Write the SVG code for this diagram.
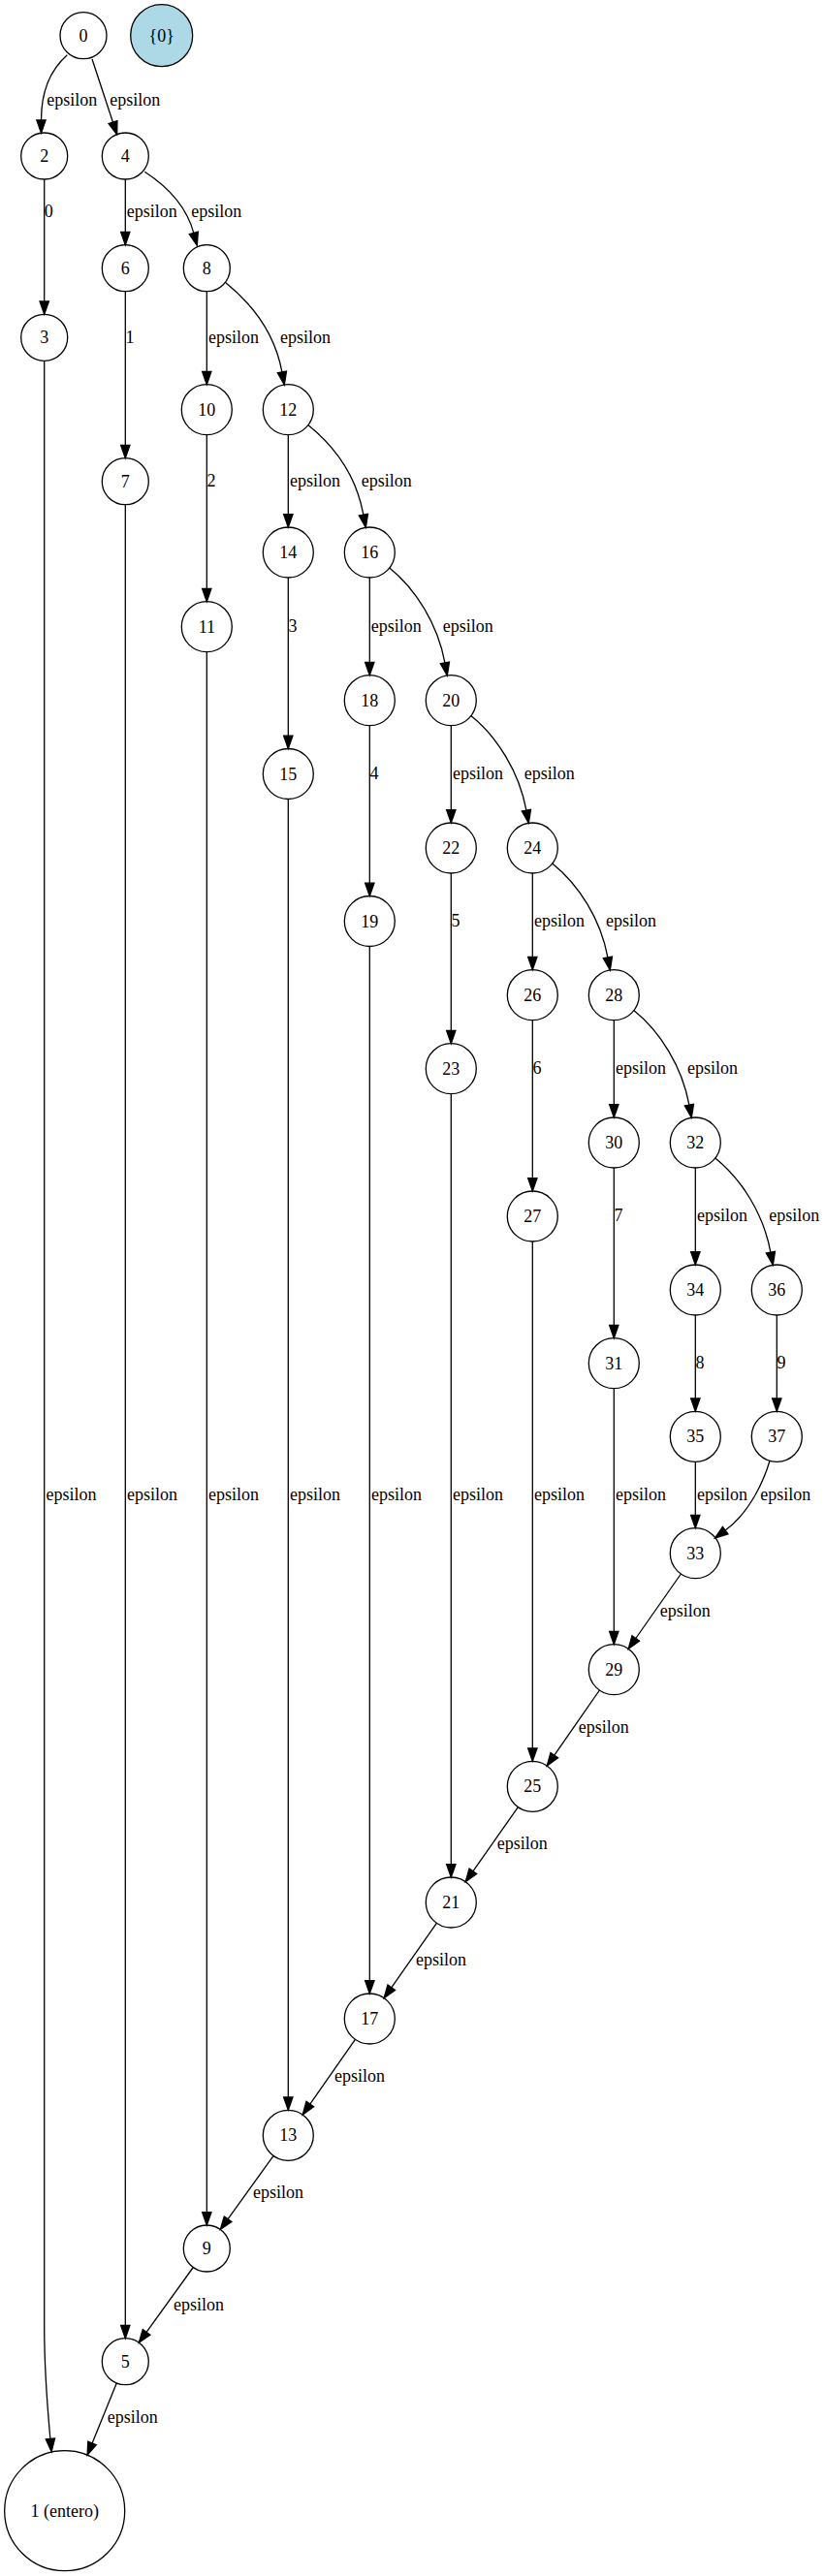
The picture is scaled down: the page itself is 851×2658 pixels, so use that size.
<svg xmlns="http://www.w3.org/2000/svg" width="851" height="2658" viewBox="0 0 851 2658">
<defs>
<style>
text{font-family:"Liberation Serif","Times New Roman",serif;font-size:18px;fill:#000}
.n circle{fill:none;stroke:#000;stroke-width:1.3}
.n text{text-anchor:middle}
.e path{fill:none;stroke:#000;stroke-width:1.3;marker-end:url(#a)}
.d{text-anchor:middle}
</style>
<marker id="a" markerUnits="userSpaceOnUse" markerWidth="14" markerHeight="10" viewBox="0 0 14 10" refX="0" refY="5" orient="auto" overflow="visible">
<path d="M0,0.33 L13.33,5 L0,9.67 Z" fill="#000" stroke="#000" stroke-width="1.3"/>
</marker>
</defs>
<rect width="851" height="2658" fill="#fff"/>
<g id="edges" class="e">
<path d="M69.3,56.7 C52,72 42.5,95 42.5,123.9"/>
<path d="M95,61 L116.5,126.2"/>
<path d="M45.7,185 L45.7,311"/>
<path d="M129.3,185 L129.3,239.4"/>
<path d="M149.3,177.3 C178,196 194,219 199.8,240.4"/>
<path d="M129.3,300.7 L129.3,459.4"/>
<path d="M213.3,300.7 L213.3,383.4"/>
<path d="M232.3,291.3 C259.6,313.3 283.7,344.5 290.9,383.9"/>
<path d="M213.3,448.7 L213.3,607.4"/>
<path d="M297.3,448.7 L297.3,530.7"/>
<path d="M317.8,438.6 C345.1,460.6 367.7,491.8 374.9,531.2"/>
<path d="M297.3,596 L297.3,759.2"/>
<path d="M381.3,596 L381.3,683.4"/>
<path d="M401.8,585.9 C429.1,607.9 451.7,644.5 458.9,683.9"/>
<path d="M381.3,748.7 L381.3,911.2"/>
<path d="M465.3,748.7 L465.3,835.7"/>
<path d="M485.8,738.6 C513.1,760.6 535.7,796.8 542.9,836.2"/>
<path d="M465.3,901 L465.3,1063.4"/>
<path d="M549.3,901 L549.3,987.4"/>
<path d="M569.8,890.9 C597.1,912.9 619.7,948.5 626.9,987.9"/>
<path d="M549.3,1052.7 L549.3,1215.7"/>
<path d="M633.3,1052.7 L633.3,1139.7"/>
<path d="M653.8,1042.6 C681.1,1064.6 703.7,1100.8 710.9,1140.2"/>
<path d="M633.3,1205 L633.3,1367.4"/>
<path d="M717.3,1205 L717.3,1291.7"/>
<path d="M737.8,1194.9 C765.1,1216.9 787.7,1252.8 794.9,1292.2"/>
<path d="M717.3,1357 L717.3,1443"/>
<path d="M801.3,1357 L801.3,1443"/>
<path d="M717.3,1508.3 L717.3,1563.4"/>
<path d="M794,1507.3 C788.4,1526.5 774,1560 748.2,1579.1"/>
<path d="M45.7,372.3 L45.7,2400 C45.7,2450 49,2485 51.9,2516.5"/>
<path d="M129.3,520.7 L129.3,2399.4"/>
<path d="M213.3,672.7 L213.3,2282.7"/>
<path d="M297.3,824.5 L297.3,2164"/>
<path d="M381.3,976.5 L381.3,2043.7"/>
<path d="M465.3,1128.7 L465.3,1923.7"/>
<path d="M549.3,1281 L549.3,1804"/>
<path d="M633.3,1432.7 L633.3,1683.4"/>
<path d="M702.4,1624 L655.8,1690.5"/>
<path d="M618.4,1744 L571.8,1811.1"/>
<path d="M534.4,1864.6 L487.9,1930.8"/>
<path d="M450.4,1984.3 L403.8,2050.8"/>
<path d="M366.4,2104.3 L319.8,2171.1"/>
<path d="M282.1,2224.4 L235.1,2289.7"/>
<path d="M199.3,2339.5 L151.1,2406.4"/>
<path d="M120.3,2458.9 L95.1,2520.9"/>
</g>
<g id="edge-labels">
<text x="48.3" y="108.8">epsilon</text>
<text x="113.3" y="108.8">epsilon</text>
<text class="d" x="50.3" y="224">0</text>
<text x="130.7" y="224">epsilon</text>
<text x="197.3" y="224">epsilon</text>
<text class="d" x="134" y="354">1</text>
<text x="215" y="354">epsilon</text>
<text x="289" y="354">epsilon</text>
<text class="d" x="218" y="502.2">2</text>
<text x="299" y="502.2">epsilon</text>
<text x="372.7" y="502.2">epsilon</text>
<text class="d" x="302" y="652.2">3</text>
<text x="382.7" y="652.2">epsilon</text>
<text x="456.7" y="652.2">epsilon</text>
<text class="d" x="386" y="804">4</text>
<text x="467" y="804">epsilon</text>
<text x="540.7" y="804">epsilon</text>
<text class="d" x="470" y="955.5">5</text>
<text x="551" y="955.5">epsilon</text>
<text x="625" y="955.5">epsilon</text>
<text class="d" x="554" y="1108">6</text>
<text x="635" y="1108">epsilon</text>
<text x="709" y="1108">epsilon</text>
<text class="d" x="638" y="1260">7</text>
<text x="719" y="1260">epsilon</text>
<text x="793.3" y="1260">epsilon</text>
<text class="d" x="722" y="1411.5">8</text>
<text class="d" x="806" y="1411.5">9</text>
<text x="47.4" y="1548">epsilon</text>
<text x="131" y="1548">epsilon</text>
<text x="215" y="1548">epsilon</text>
<text x="299" y="1548">epsilon</text>
<text x="383" y="1548">epsilon</text>
<text x="467" y="1548">epsilon</text>
<text x="551" y="1548">epsilon</text>
<text x="635" y="1548">epsilon</text>
<text x="719" y="1548">epsilon</text>
<text x="784.3" y="1548">epsilon</text>
<text x="680.7" y="1668.2">epsilon</text>
<text x="596.7" y="1788.2">epsilon</text>
<text x="512.7" y="1908.2">epsilon</text>
<text x="429" y="2028">epsilon</text>
<text x="345" y="2148.2">epsilon</text>
<text x="261" y="2268.2">epsilon</text>
<text x="179" y="2383.8">epsilon</text>
<text x="110.7" y="2499.8">epsilon</text>
</g>
<g id="n0" class="n"><circle cx="86" cy="36.7" r="24"/><text x="86" y="42.7">0</text></g>
<g id="nset" class="n"><circle cx="166.7" cy="36.7" r="32" style="fill:#add8e6"/><text x="166.7" y="42.7">{0}</text></g>
<g id="n2" class="n"><circle cx="45.7" cy="161" r="24"/><text x="45.7" y="167">2</text></g>
<g id="n4" class="n"><circle cx="129.3" cy="161" r="24"/><text x="129.3" y="167">4</text></g>
<g id="n6" class="n"><circle cx="129.3" cy="276.7" r="24"/><text x="129.3" y="282.7">6</text></g>
<g id="n8" class="n"><circle cx="213.3" cy="276.7" r="24"/><text x="213.3" y="282.7">8</text></g>
<g id="n3" class="n"><circle cx="45.7" cy="348.3" r="24"/><text x="45.7" y="354.3">3</text></g>
<g id="n10" class="n"><circle cx="213.3" cy="422.7" r="26"/><text x="213.3" y="428.7">10</text></g>
<g id="n12" class="n"><circle cx="297.3" cy="422.7" r="26"/><text x="297.3" y="428.7">12</text></g>
<g id="n7" class="n"><circle cx="129.3" cy="496.7" r="24"/><text x="129.3" y="502.7">7</text></g>
<g id="n14" class="n"><circle cx="297.3" cy="570" r="26"/><text x="297.3" y="576">14</text></g>
<g id="n16" class="n"><circle cx="381.3" cy="570" r="26"/><text x="381.3" y="576">16</text></g>
<g id="n11" class="n"><circle cx="213.3" cy="646.7" r="26"/><text x="213.3" y="652.7">11</text></g>
<g id="n18" class="n"><circle cx="381.3" cy="722.7" r="26"/><text x="381.3" y="728.7">18</text></g>
<g id="n20" class="n"><circle cx="465.3" cy="722.7" r="26"/><text x="465.3" y="728.7">20</text></g>
<g id="n15" class="n"><circle cx="297.3" cy="798.5" r="26"/><text x="297.3" y="804.5">15</text></g>
<g id="n22" class="n"><circle cx="465.3" cy="875" r="26"/><text x="465.3" y="881">22</text></g>
<g id="n24" class="n"><circle cx="549.3" cy="875" r="26"/><text x="549.3" y="881">24</text></g>
<g id="n19" class="n"><circle cx="381.3" cy="950.5" r="26"/><text x="381.3" y="956.5">19</text></g>
<g id="n26" class="n"><circle cx="549.3" cy="1026.7" r="26"/><text x="549.3" y="1032.7">26</text></g>
<g id="n28" class="n"><circle cx="633.3" cy="1026.7" r="26"/><text x="633.3" y="1032.7">28</text></g>
<g id="n23" class="n"><circle cx="465.3" cy="1102.7" r="26"/><text x="465.3" y="1108.7">23</text></g>
<g id="n30" class="n"><circle cx="633.3" cy="1179" r="26"/><text x="633.3" y="1185">30</text></g>
<g id="n32" class="n"><circle cx="717.3" cy="1179" r="26"/><text x="717.3" y="1185">32</text></g>
<g id="n27" class="n"><circle cx="549.3" cy="1255" r="26"/><text x="549.3" y="1261">27</text></g>
<g id="n34" class="n"><circle cx="717.3" cy="1331" r="26"/><text x="717.3" y="1337">34</text></g>
<g id="n36" class="n"><circle cx="801.3" cy="1331" r="26"/><text x="801.3" y="1337">36</text></g>
<g id="n31" class="n"><circle cx="633.3" cy="1406.7" r="26"/><text x="633.3" y="1412.7">31</text></g>
<g id="n35" class="n"><circle cx="717.3" cy="1482.3" r="26"/><text x="717.3" y="1488.3">35</text></g>
<g id="n37" class="n"><circle cx="801.3" cy="1482.3" r="26"/><text x="801.3" y="1488.3">37</text></g>
<g id="n33" class="n"><circle cx="717.3" cy="1602.7" r="26"/><text x="717.3" y="1608.7">33</text></g>
<g id="n29" class="n"><circle cx="633.3" cy="1722.7" r="26"/><text x="633.3" y="1728.7">29</text></g>
<g id="n25" class="n"><circle cx="549.3" cy="1843.3" r="26"/><text x="549.3" y="1849.3">25</text></g>
<g id="n21" class="n"><circle cx="465.3" cy="1963" r="26"/><text x="465.3" y="1969">21</text></g>
<g id="n17" class="n"><circle cx="381.3" cy="2083" r="26"/><text x="381.3" y="2089">17</text></g>
<g id="n13" class="n"><circle cx="297.3" cy="2203.3" r="26"/><text x="297.3" y="2209.3">13</text></g>
<g id="n9" class="n"><circle cx="213.3" cy="2320" r="24"/><text x="213.3" y="2326">9</text></g>
<g id="n5" class="n"><circle cx="129.3" cy="2436.7" r="24"/><text x="129.3" y="2442.7">5</text></g>
<g id="n1" class="n"><circle cx="66.7" cy="2590.7" r="62"/><text x="66.7" y="2596.7">1 (entero)</text></g>
</svg>
